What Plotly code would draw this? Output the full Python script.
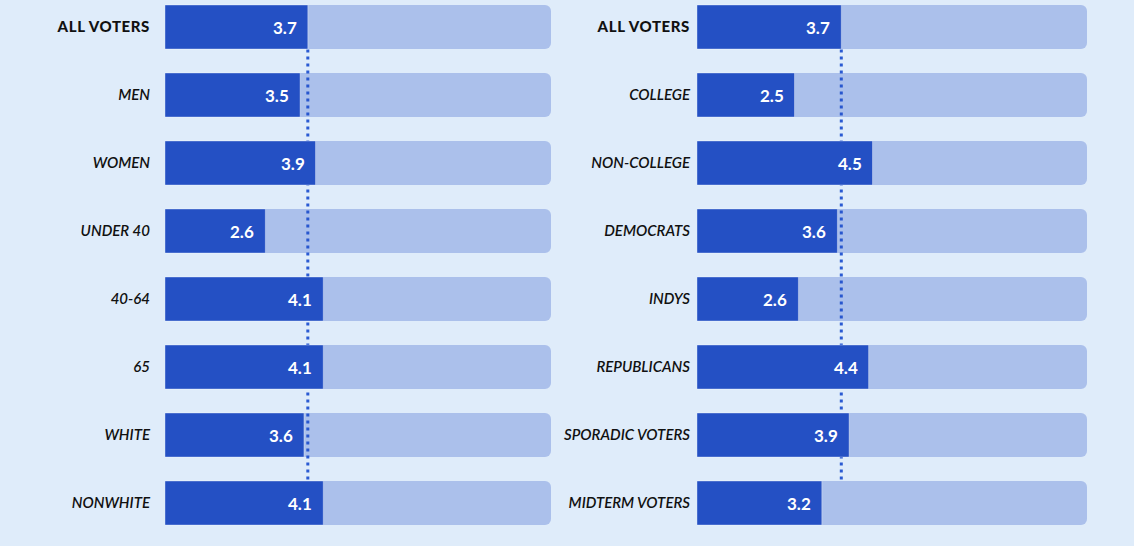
import plotly.graph_objects as go

left_labels = ["ALL VOTERS", "MEN", "WOMEN", "UNDER 40", "40-64", "65", "WHITE", "NONWHITE"]
left_values = [3.7, 3.5, 3.9, 2.6, 4.1, 4.1, 3.6, 4.1]
right_labels = ["ALL VOTERS", "COLLEGE", "NON-COLLEGE", "DEMOCRATS", "INDYS",
                "REPUBLICANS", "SPORADIC VOTERS", "MIDTERM VOTERS"]
right_values = [3.7, 2.5, 4.5, 3.6, 2.6, 4.4, 3.9, 3.2]
scale_max = 10

BG = "#DFECFA"
DARK = "#2450C4"
TRACK = "rgba(36,80,196,0.28)"
LINE = "#2A5AD2"
FONT = "Lato"

fig = go.Figure()

panels = [
    (left_labels, left_values, "x", "y"),
    (right_labels, right_values, "x2", "y2"),
]

for labels, values, xa, ya in panels:
    pos = list(range(len(labels)))
    fig.add_trace(go.Bar(
        y=pos, x=[scale_max] * len(labels), orientation="h",
        marker=dict(color=TRACK, cornerradius=6, line=dict(width=0)),
        width=0.647, xaxis=xa, yaxis=ya, hoverinfo="skip", showlegend=False,
    ))
    fig.add_trace(go.Bar(
        y=pos, x=values, orientation="h",
        marker=dict(color=DARK, line=dict(width=1, color="rgba(255,255,255,0.35)")),
        width=0.647, xaxis=xa, yaxis=ya, showlegend=False,
    ))
    # dotted reference line at ALL VOTERS value, under the bars
    fig.add_shape(type="line", xref=xa, yref=ya,
                  x0=values[0], x1=values[0], y0=0.33, y1=len(labels) - 1 - 0.33,
                  line=dict(color=LINE, width=3, dash="3px,4px"), layer="below")
    for i, v in enumerate(values):
        fig.add_annotation(x=v, y=i, xref=xa, yref=ya, text=f"{v:.1f}",
                           showarrow=False, xanchor="right", xshift=-9,
                           font=dict(family=FONT, size=17, color="white", weight="bold"))

def ticktexts(labels):
    out = []
    for i, l in enumerate(labels):
        if i == 0:
            out.append(f"<span style='font-size:15px;font-weight:900;letter-spacing:0.6px'>{l}</span>")
        else:
            out.append(f"<i>{l}</i>")
    return out

yrange = [7.632, -0.397]
common_y = dict(range=yrange, showgrid=False, zeroline=False, showline=False,
                ticks="", tickmode="array", tickvals=list(range(8)),
                tickfont=dict(family=FONT, size=15, color="#111111", weight=600),
                automargin=False, fixedrange=True)
common_x = dict(range=[0, scale_max], showgrid=False, zeroline=False, showline=False,
                showticklabels=False, ticks="", automargin=False, fixedrange=True)

fig.update_layout(
    width=1134, height=546,
    margin=dict(l=0, r=0, t=0, b=0),
    paper_bgcolor=BG, plot_bgcolor=BG,
    barmode="overlay",
    xaxis=dict(domain=[165 / 1134, 551 / 1134], anchor="y", **common_x),
    xaxis2=dict(domain=[697 / 1134, 1087 / 1134], anchor="y2", **common_x),
    yaxis=dict(domain=[0, 1], anchor="x", ticktext=ticktexts(left_labels),
               ticklabelstandoff=14, **common_y),
    yaxis2=dict(domain=[0, 1], anchor="x2", ticktext=ticktexts(right_labels),
                ticklabelstandoff=6, **common_y),
    showlegend=False,
)

fig.write_html("out.html")
